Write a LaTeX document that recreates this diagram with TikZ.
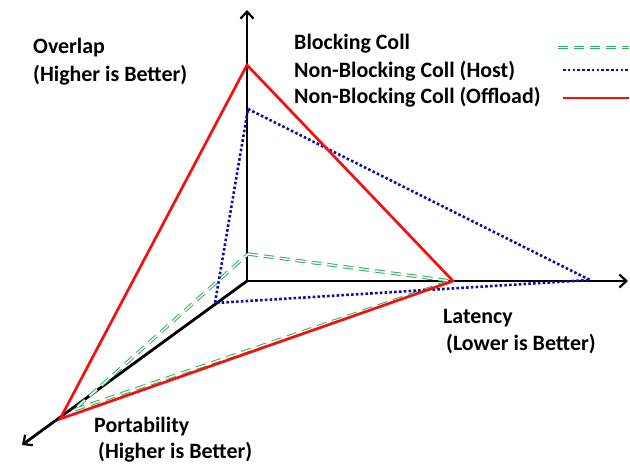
\documentclass[tikz,border=0pt]{standalone}
\usepackage{fontspec}
\setmainfont{Carlito}
\usetikzlibrary{arrows.meta}

\definecolor{blockgreen}{RGB}{50,175,95}
\definecolor{hostblue}{RGB}{15,15,160}
\definecolor{offred}{RGB}{245,15,15}

\begin{document}
\begin{tikzpicture}[
  x=1bp, y=-1bp,
  font=\fontsize{22}{26}\selectfont\bfseries,
  axisline/.style={-{Straight Barb[length=7bp,width=13bp,line width=2.2bp]}, line width=2.8bp, black},
  blocking/.style={draw=blockgreen, double=white, double distance=1.4bp, line width=1bp, dash pattern=on 10bp off 6bp},
  hostline/.style={draw=hostblue, line width=2.6bp, dash pattern=on 2.6bp off 2.2bp},
  offload/.style={draw=offred, line width=2.7bp, line join=miter},
  axislabel/.style={anchor=west, inner sep=0pt}
]
\useasboundingbox (0,0) rectangle (630,465);

% axes
\coordinate (O) at (247,281);
\coordinate (ovtop) at (247,10);
\coordinate (latend) at (628,281);
\coordinate (portend) at (22,445);

% vertices of the three triangles
\coordinate (blkO) at (248,254);
\coordinate (blkL) at (451,281);
\coordinate (blkP) at (74,410);
\coordinate (hostO) at (248,109);
\coordinate (hostL) at (590,280);
\coordinate (hostP) at (215,303);
\coordinate (offO) at (247,65);
\coordinate (offL) at (453,281);
\coordinate (offP) at (60,419);

\draw[axisline] (O) -- (ovtop);
\draw[axisline] (O) -- (latend);
\draw[axisline] (O) -- (portend);

\draw[blocking] (blkO) -- (blkL) -- (blkP) -- cycle;
\draw[hostline] (hostO) -- (hostL) -- (hostP) -- cycle;
\draw[offload] (offO) -- (offL) -- (offP) -- cycle;

% axis labels
\node[axislabel] (ovl) at (33,48) {Overlap};
\node[axislabel] (ovlnote) at (33,75) {(Higher is Better)};
\node[axislabel] (lat) at (443,318) {Latency};
\node[axislabel] (latnote) at (446,344) {(Lower is Better)};
\node[axislabel] (port) at (94,427) {Portability};
\node[axislabel] (portnote) at (98,452) {(Higher is Better)};

% legend
\node[axislabel] (legblk) at (294,44) {Blocking Coll};
\node[axislabel] (leghost) at (294,71) {Non-Blocking Coll (Host)};
\node[axislabel] (legoff) at (294,97) {Non-Blocking Coll (Offload)};
\coordinate (blkA) at (558,47.5);
\coordinate (blkB) at (629,47.5);
\coordinate (hostA) at (563,70);
\coordinate (hostB) at (629,70);
\coordinate (offA) at (563,98);
\coordinate (offB) at (629,98);
\draw[blocking, dash phase=0bp] (blkA) -- (blkB);
\draw[hostline] (hostA) -- (hostB);
\draw[offload] (offA) -- (offB);
\end{tikzpicture}
\end{document}
